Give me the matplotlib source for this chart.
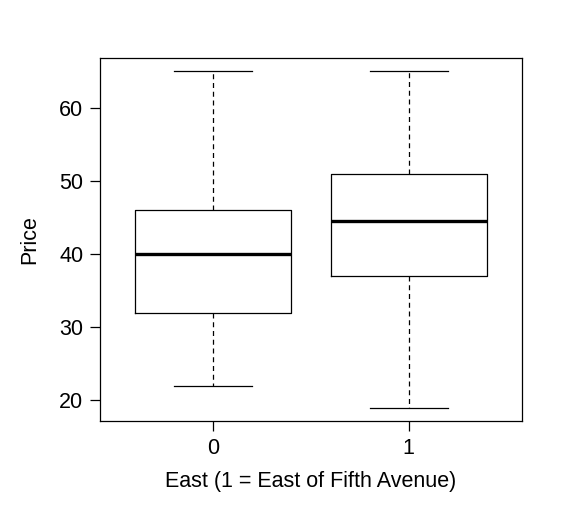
import matplotlib
matplotlib.use('Agg')
import matplotlib.pyplot as plt

plt.rcParams['font.family'] = ['Liberation Sans', 'DejaVu Sans']

# データ (箱ひげ図の要約統計量)
groups = ['0', '1']
whisker_low = [22, 19]
q1 = [32, 37]
median = [40, 44.5]
q3 = [46, 51]
whisker_high = [65, 65]

stats = []
for i in range(len(groups)):
    stats.append({'label': groups[i], 'whislo': whisker_low[i], 'q1': q1[i],
                  'med': median[i], 'q3': q3[i], 'whishi': whisker_high[i], 'fliers': []})

fig = plt.figure(figsize=(5.77, 5.20), dpi=100)
ax = fig.add_axes([0.1733, 0.1904, 0.7314, 0.6981])

ax.bxp(stats, positions=[1, 2], widths=0.8, showfliers=False,
       boxprops=dict(color='black', linewidth=0.9),
       medianprops=dict(color='black', linewidth=2.4),
       whiskerprops=dict(color='black', linewidth=0.9, linestyle=(0, (4, 3))),
       capprops=dict(color='black', linewidth=0.9), capwidths=0.4)

ax.set_xlim(0.42, 2.58)
ax.set_ylim(17.16, 66.84)
ax.set_yticks([20, 30, 40, 50, 60])
ax.set_xticks([1, 2])
ax.set_xticklabels(groups)
ax.tick_params(direction='out', length=7, width=0.9, labelsize=15.5, pad=5)
for s in ax.spines.values():
    s.set_linewidth(0.9)

ax.set_xlabel('East (1 = East of Fifth Avenue)', fontsize=15.5, labelpad=9)
ax.set_ylabel('Price', fontsize=15.5, labelpad=14)

plt.savefig('out.png', dpi=100)
